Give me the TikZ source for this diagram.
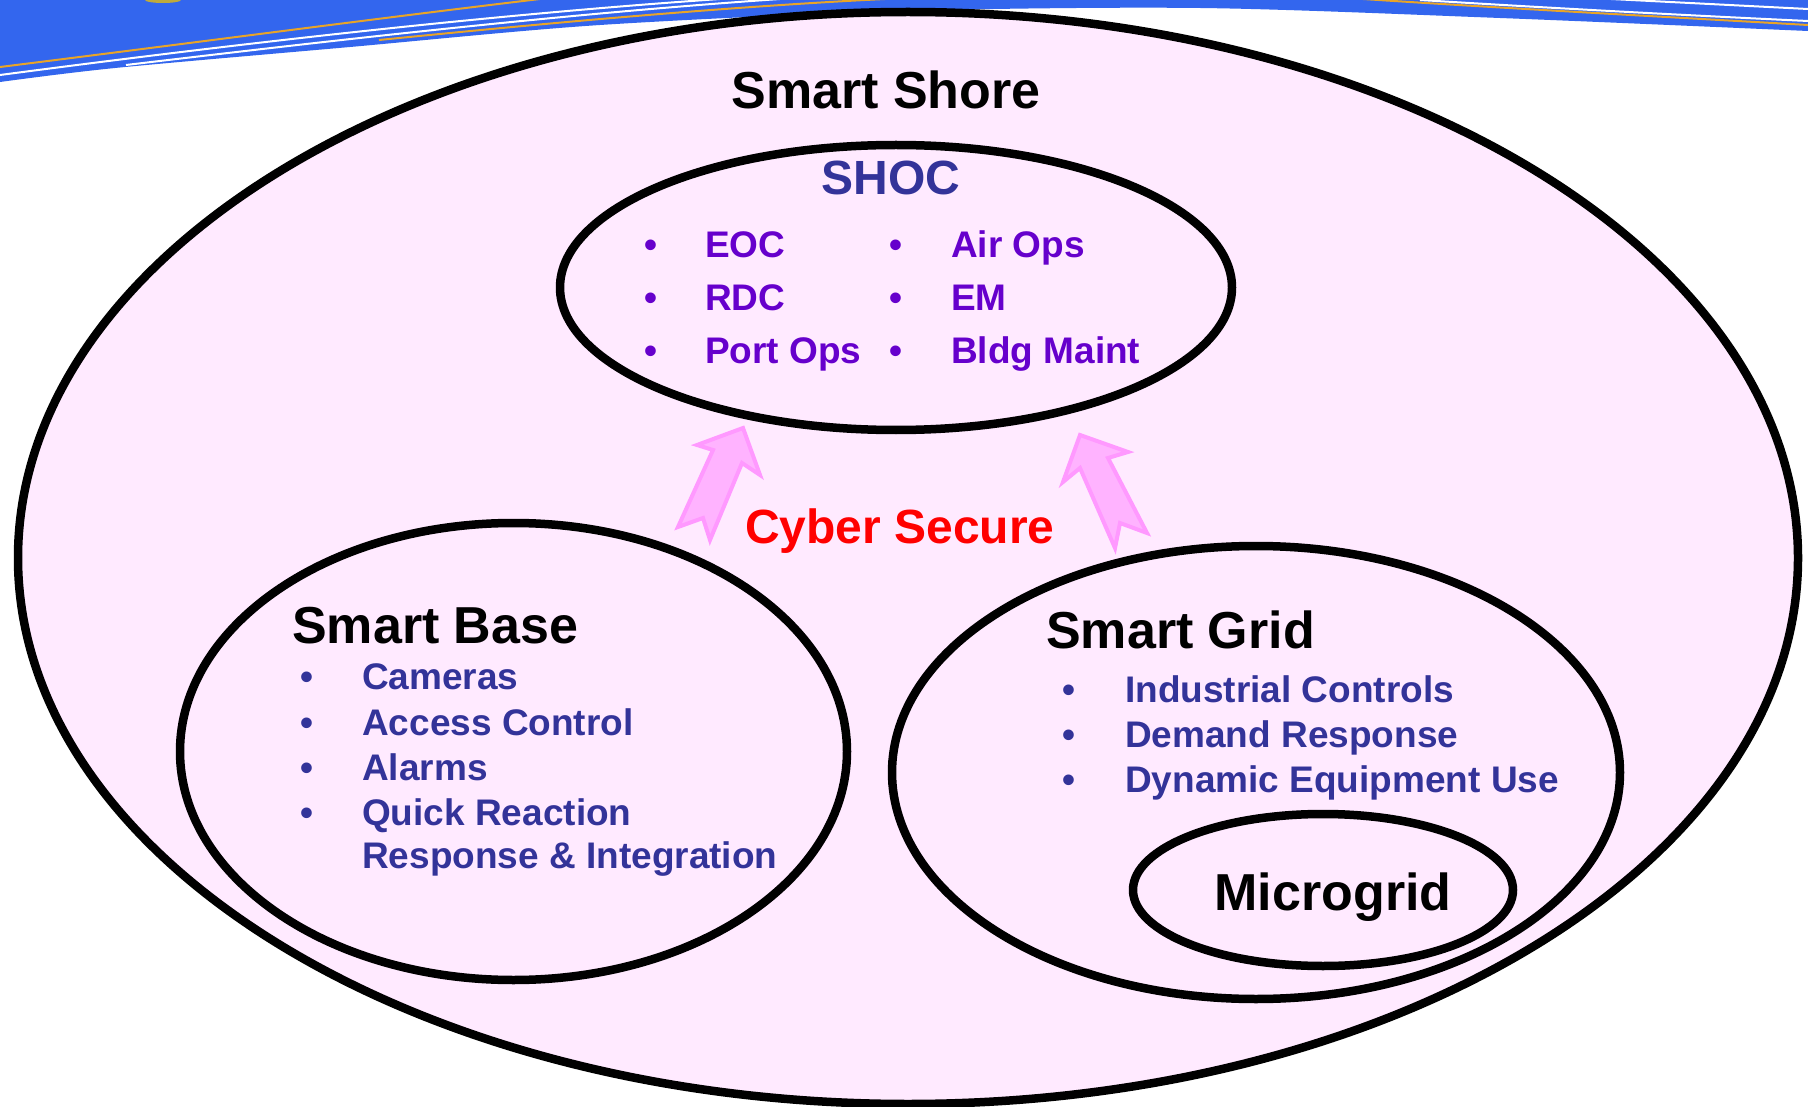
\documentclass[tikz,border=0pt]{standalone}
\usepackage{fontspec}
\setmainfont{Liberation Sans}
\usetikzlibrary{shapes.geometric}
\definecolor{bubblefill}{RGB}{255,234,255}
\definecolor{shocblue}{RGB}{51,51,153}
\definecolor{shocpurple}{RGB}{102,0,204}
\definecolor{hdrblue}{RGB}{51,102,238}
\definecolor{hdrorange}{RGB}{232,164,40}
\definecolor{arrowfill}{RGB}{255,179,255}
\definecolor{arrowline}{RGB}{255,153,255}
\definecolor{logoyellow}{RGB}{190,170,60}
\definecolor{cyberred}{RGB}{255,0,0}
\begin{document}
\begin{tikzpicture}[x=1pt,y=-1pt,
  bubble/.style={ellipse, draw=black, fill=bubblefill, line width=8.5pt, inner sep=0pt},
  title/.style={font=\fontsize{52}{60}\selectfont\bfseries, inner sep=0pt, anchor=base west},
  item/.style={font=\fontsize{37}{44}\selectfont\bfseries, text=shocblue, inner sep=0pt, anchor=base west},
  bul/.style={font=\fontsize{37}{44}\selectfont\bfseries, text=shocblue, inner sep=0pt, anchor=base},
  purple item/.style={item, text=shocpurple},
  purple bul/.style={bul, text=shocpurple},
  blockarrow/.style={fill=arrowfill, draw=arrowline, line width=4pt, line join=miter},
  hdrline/.style={line width=2pt}]
\useasboundingbox (0,0) rectangle (1808,1107);
\fill[white] (0,0) rectangle (1808,1107);
% header band
\fill[hdrblue] (-5,-5) -- (-5,83) -- plot[smooth, tension=0.5] coordinates {(0,82) (115,68) (350,47) (600,25) (900,11) (1200,8) (1500,18) (1808,31)} -- (1813,31) -- (1813,-5) -- cycle;
\draw[hdrorange, hdrline] (0,67) .. controls (200,42) and (380,18) .. (540,-1);
\draw[white, hdrline] (0,75) .. controls (250,42) and (500,14) .. (720,-1);
\draw[white, hdrline] (126,65) .. controls (320,42) and (560,14) .. (780,-1);
\draw[hdrorange, hdrline] (379,40) .. controls (500,28) and (700,8) .. (885,-1);
\draw[hdrorange, hdrline] (1363,-1) .. controls (1500,8) and (1650,16) .. (1808,25);
\draw[white, hdrline] (1420,0) .. controls (1550,8) and (1680,15) .. (1808,21);
\draw[white, hdrline] (1611,-1) -- (1808,9);
\fill[logoyellow] (163,0) ellipse [x radius=18, y radius=3];
% ellipses
\node[bubble, minimum width=1780pt, minimum height=1092pt] (shore) at (908,558) {};
\node[bubble, minimum width=672pt, minimum height=285pt] (shoc) at (896,287.5) {};
\node[bubble, minimum width=667pt, minimum height=457pt] (base) at (513.5,751.5) {};
\node[bubble, minimum width=728pt, minimum height=453pt] (grid) at (1256,772.5) {};
\node[bubble, minimum width=380pt, minimum height=152pt] (micro) at (1323,890) {};
% arrows
\draw[blockarrow] (743,428) -- (760,475) -- (742,463) -- (710,540) -- (703,518) -- (678,527) -- (713,450) -- (697,445) -- cycle;
\draw[blockarrow] (1080,435) -- (1128,452) -- (1108,458) -- (1147,533) -- (1120,523) -- (1115,548) -- (1080,468) -- (1063,482) -- cycle;
% texts
\node[title, anchor=base] (tshore) at (886,109) {Smart Shore};
\node[title, anchor=base, text=shocblue, font=\fontsize{48}{56}\selectfont\bfseries] (tshoc) at (891,195) {SHOC};
\node[purple bul] (sb1) at (651,258) {•};
\node[purple bul] (sb2) at (651,311) {•};
\node[purple bul] (sb3) at (651,363) {•};
\node[purple bul] (sb4) at (896,258) {•};
\node[purple bul] (sb5) at (896,311) {•};
\node[purple bul] (sb6) at (896,363) {•};
\node[purple item] (s1) at (705,258) {EOC};
\node[purple item] (s2) at (705,311) {RDC};
\node[purple item] (s3) at (705,363) {Port Ops};
\node[purple item] (s4) at (951,258) {Air Ops};
\node[purple item] (s5) at (951,311) {EM};
\node[purple item] (s6) at (951,363) {Bldg Maint};
\node[font=\fontsize{48}{56}\selectfont\bfseries, text=cyberred, inner sep=0pt, anchor=base] (cyber) at (900,543) {Cyber Secure};
\node[title] (tbase) at (292,643) {Smart Base};
\node[bul] (bb1) at (307,689) {•};
\node[bul] (bb2) at (307,735) {•};
\node[bul] (bb3) at (307,780) {•};
\node[bul] (bb4) at (307,825) {•};
\node[item] (b1) at (362,689) {Cameras};
\node[item] (b2) at (362,735) {Access Control};
\node[item] (b3) at (362,780) {Alarms};
\node[item] (b4) at (362,825) {Quick Reaction};
\node[item] (b5) at (362,868) {Response \& Integration};
\node[title] (tgrid) at (1046,648) {Smart Grid};
\node[bul] (gb1) at (1069,702) {•};
\node[bul] (gb2) at (1069,747) {•};
\node[bul] (gb3) at (1069,792) {•};
\node[item] (g1) at (1125,702) {Industrial Controls};
\node[item] (g2) at (1125,747) {Demand Response};
\node[item] (g3) at (1125,792) {Dynamic Equipment Use};
\node[title, anchor=base] (tmicro) at (1333,910) {Microgrid};
\end{tikzpicture}
\end{document}
